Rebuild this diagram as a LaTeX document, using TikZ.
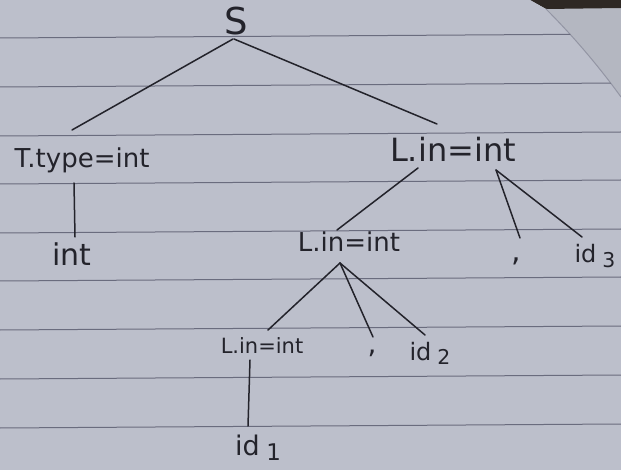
\documentclass[tikz,border=0pt]{standalone}
\usepackage{fontspec}
\setmainfont{DejaVu Sans}
\definecolor{paper}{HTML}{BCBFCB}
\definecolor{rule}{HTML}{6A6C7E}
\definecolor{ink}{HTML}{23232B}
\definecolor{desk}{HTML}{B4B7C1}
\definecolor{shadow}{HTML}{2E2824}
% lowered, slightly smaller index digit
\newcommand\hsub[1]{\kern0.25em\raisebox{-0.35ex}{\scalebox{0.85}{#1}}}
\tikzset{
  lbl/.style={inner sep=0pt, anchor=base, text=ink},
  edge/.style={draw=ink, line width=1.5pt, line cap=round},
  ruling/.style={draw=rule, line width=1pt},
}
\begin{document}
\begin{tikzpicture}[x=1pt,y=-1pt]
\useasboundingbox (0,0) rectangle (621,470);
% desk, page edge and notebook sheet
\fill[desk] (0,0) rectangle (621,470);
\fill[shadow] (530,0) -- (621,0) -- (621,8) -- (546,9) -- cycle;
\fill[paper] (0,0) -- (530,0) -- (546,9) .. controls (575,38) and (600,68) .. (621,97)
  -- (621,470) -- (0,470) -- cycle;
\draw[rule!50!paper, line width=1pt] (546,9) .. controls (575,38) and (600,68) .. (621,97);
% ruled lines
\begin{scope}
  \clip (0,0) -- (530,0) -- (546,9) .. controls (575,38) and (600,68) .. (621,97)
    -- (621,470) -- (0,470) -- cycle;
  \foreach \y in {38,87,136,184,233,281,330,379,428}
    \draw[ruling] (0,\y) -- (621,\y-4);
\end{scope}

% parse tree labels
\node[lbl, font=\fontsize{37}{40}\selectfont] (S) at (236,35) {S};
\node[lbl, font=\fontsize{26}{30}\selectfont] (Ttype) at (82,168) {T.type=int};
\node[lbl, font=\fontsize{30}{34}\selectfont] (Tint) at (72,266) {int};
\node[lbl, font=\fontsize{32}{36}\selectfont] (Ltop) at (453,162) {L.in=int};
\node[lbl, font=\fontsize{26}{30}\selectfont] (Lmid) at (349,252) {L.in=int};
\node[lbl, font=\fontsize{21}{25}\selectfont] (Llow) at (262,353) {L.in=int};
\node[lbl, font=\fontsize{30}{34}\selectfont] (c3) at (516,262) {,};
\node[lbl, font=\fontsize{24}{28}\selectfont] (id3) at (595,263) {id\hsub{3}};
\node[lbl, font=\fontsize{28}{32}\selectfont] (c2) at (372,353) {,};
\node[lbl, font=\fontsize{24}{28}\selectfont] (id2) at (430,360) {id\hsub{2}};
\node[lbl, font=\fontsize{27}{31}\selectfont] (id1) at (258,455) {id\hsub{1}};

% tree edges
\draw[edge] ([shift={(-3pt,-4pt)}]S.base) -- ([shift={(-10pt,38pt)}]Ttype.base);
\draw[edge] ([shift={(-2pt,-4pt)}]S.base) -- ([shift={(-16pt,38pt)}]Ltop.base);
\draw[edge] ([shift={(-8pt,-15pt)}]Ttype.base) -- ([shift={(3pt,29pt)}]Tint.base);
\draw[edge] ([shift={(-35pt,-6pt)}]Ltop.base) -- ([shift={(-12pt,22pt)}]Lmid.base);
\draw[edge] ([shift={(43pt,-8pt)}]Ltop.base) -- ([shift={(4pt,24pt)}]c3.base);
\draw[edge] ([shift={(43pt,-8pt)}]Ltop.base) -- ([shift={(-13pt,26pt)}]id3.base);
\draw[edge] ([shift={(-9pt,-11pt)}]Lmid.base) -- ([shift={(6pt,23pt)}]Llow.base);
\draw[edge] ([shift={(-9pt,-11pt)}]Lmid.base) -- ([shift={(1pt,16pt)}]c2.base);
\draw[edge] ([shift={(-9pt,-11pt)}]Lmid.base) -- ([shift={(-5pt,25pt)}]id2.base);
\draw[edge] ([shift={(-12pt,-7pt)}]Llow.base) -- ([shift={(-10pt,29pt)}]id1.base);
\end{tikzpicture}
\end{document}
